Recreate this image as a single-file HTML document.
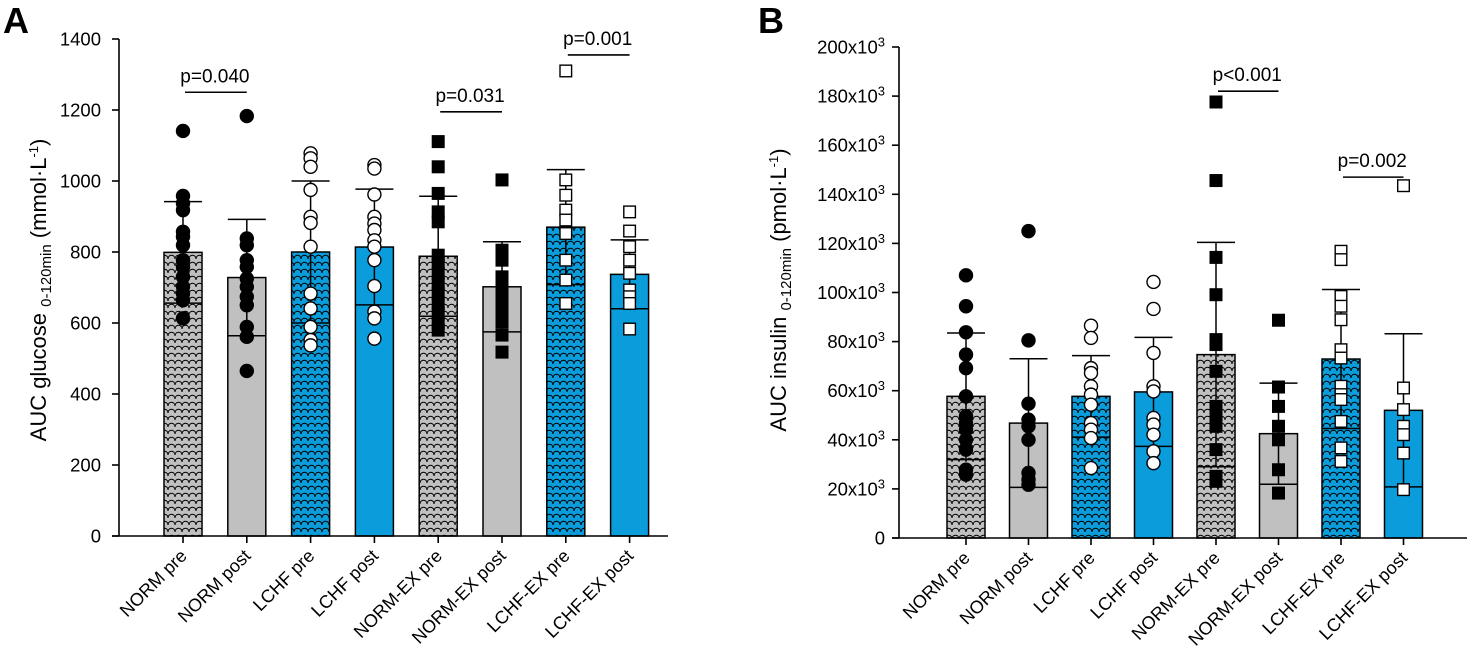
<!DOCTYPE html>
<html><head><meta charset="utf-8"><style>
html,body{margin:0;padding:0;background:#fff;}
svg{display:block;font-family:"Liberation Sans",Arial,sans-serif;}
</style></head><body>
<svg id="fig" width="1470" height="662" viewBox="0 0 1470 662" xmlns="http://www.w3.org/2000/svg">
<defs>
<pattern id="scaleGray" width="14" height="14" patternUnits="userSpaceOnUse">
<rect width="14" height="14" fill="#c0c0c0"/>
<path d="M0,7 C0,2 7,2 7,7 C7,2 14,2 14,7 M-7,14 C-7,9 0,9 0,14 M0,14 C0,9 7,9 7,14 C7,9 14,9 14,14" fill="none" stroke="#000" stroke-width="1"/>
</pattern>
<pattern id="scaleBlue" width="14" height="14" patternUnits="userSpaceOnUse">
<rect width="14" height="14" fill="#0b9ddb"/>
<path d="M0,7 C0,2 7,2 7,7 C7,2 14,2 14,7 M-7,14 C-7,9 0,9 0,14 M0,14 C0,9 7,9 7,14 C7,9 14,9 14,14" fill="none" stroke="#000" stroke-width="1"/>
</pattern>
</defs>
</svg>
<script>
// Shared categories
const categories = ["NORM pre","NORM post","LCHF pre","LCHF post","NORM-EX pre","NORM-EX post","LCHF-EX pre","LCHF-EX post"];
const fills = ["url(#scaleGray)","#c0c0c0","url(#scaleBlue)","#0b9ddb","url(#scaleGray)","#c0c0c0","url(#scaleBlue)","#0b9ddb"];
const markers = ["fc","fc","oc","oc","fs","fs","os","os"];

// Panel A data (glucose)
const gluMeans = [799,728,800,814,788,702,870,737];
const gluSD = [143,164,200,163,169,127,162,97];
const gluPoints = [
 [1141,958,937,918,857,843,819,777,758,730,702,683,664,613],
 [1183,838,819,777,758,725,702,674,650,589,561,465],
 [1078,1064,1040,975,899,882,815,683,641,589,552,537],
 [1045,1035,962,899,880,862,833,815,777,704,632,613,556],
 [1111,1040,965,913,885,791,768,740,711,683,655,627,599,580],
 [1003,805,777,730,711,683,655,627,603,566,518],
 [1310,1003,960,918,890,852,777,721,655],
 [913,859,815,777,740,693,674,655,583]
];
const gluTicks = [0,200,400,600,800,1000,1200,1400];
const gluSig = [{a:0,b:1,y:1250,t:"p=0.040"},{a:4,b:5,y:1195,t:"p=0.031"},{a:6,b:7,y:1355,t:"p=0.001"}];

// Panel B data (insulin, x10^3)
const insMeans = [57.7,46.8,57.7,59.5,74.7,42.5,72.9,52.0];
const insSD = [25.8,26.2,16.6,22.2,45.7,20.6,28.3,31.2];
const insPoints = [
 [107,94.4,83.8,74.7,69.2,57.7,49.6,46.8,44.1,40,36,27.8,25.8],
 [125,80.5,54.7,48.2,45.5,40,26.5,23.8,21.7],
 [86.5,81.5,69.2,67.2,61.8,58.4,54.3,46.8,44.1,40.7,28.5],
 [104.3,93.3,75.4,61.8,59.7,48.9,46.2,42.1,35.3,30.5],
 [177.6,145.6,114.3,99.1,80.8,78.8,67.9,53.6,49.6,45.5,36,25.1,23.1],
 [88.7,61.5,53.6,45.5,40,27.8,18.3],
 [116.8,113.4,98.4,94.4,88.9,76.7,73.3,61.8,58.4,56.4,47.5,36.7,31.2],
 [143.5,61.1,52.3,45.5,42.1,34.6,19.7]
];
const insTicks = [0,20,40,60,80,100,120,140,160,180,200];
const insSig = [{a:4,b:5,y:182,t:"p<0.001"},{a:6,b:7,y:147,t:"p=0.002"}];

const NS="http://www.w3.org/2000/svg";
const svg=document.getElementById('fig');
function mk(tag,attrs,parent){const e=document.createElementNS(NS,tag);for(const k in attrs)e.setAttribute(k,attrs[k]);(parent||svg).appendChild(e);return e;}

function panel(cfg){
  const g=mk('g',{});
  
  
  const y=v=>cfg.y0-(v-cfg.vmin)/(cfg.vmax-cfg.vmin)*(cfg.y0-cfg.y1);
  const x=i=>cfg.c0+i*cfg.step;
  const hw=cfg.bw/2;
  cfg.means.forEach((m,i)=>{
    const r=mk('rect',{x:x(i)-hw,y:y(m),width:cfg.bw,height:cfg.y0-y(m),fill:fills[i],stroke:'#000','stroke-width':1.5},g);
    
    
  });
  cfg.means.forEach((m,i)=>{
    const eg=mk('g',{stroke:'#000','stroke-width':1.5},g);
    
    
    mk('line',{x1:x(i),x2:x(i),y1:y(m+cfg.sd[i]),y2:y(m-cfg.sd[i])},eg);
    mk('line',{x1:x(i)-hw,x2:x(i)+hw,y1:y(m+cfg.sd[i]),y2:y(m+cfg.sd[i])},eg);
    mk('line',{x1:x(i)-hw,x2:x(i)+hw,y1:y(m-cfg.sd[i]),y2:y(m-cfg.sd[i])},eg);
  });
  cfg.points.forEach((arr,i)=>{
    const mt=markers[i];
    arr.forEach(v=>{
      let p;
      if(mt[1]==='c') p=mk('circle',{cx:x(i),cy:y(v),r:6.5,fill:mt[0]==='f'?'#000':'#fff',stroke:'#000','stroke-width':1.4},g);
      else p=mk('rect',{x:x(i)-5.8,y:y(v)-5.8,width:11.6,height:11.6,fill:mt[0]==='f'?'#000':'#fff',stroke:'#000','stroke-width':1.4},g);
      
      
    });
  });
  const ax=mk('g',{stroke:'#000','stroke-width':1.6},g);
  
  
  mk('line',{x1:cfg.ax,x2:cfg.ax,y1:cfg.y1,y2:cfg.y0},ax);
  mk('line',{x1:cfg.ax-7,x2:cfg.xend,y1:cfg.y0,y2:cfg.y0},ax);
  cfg.ticks.forEach(t=>{
    mk('line',{x1:cfg.ax-7,x2:cfg.ax,y1:y(t),y2:y(t)},ax);
    const tx=mk('text',{x:cfg.lx,y:y(t)+6.5,'text-anchor':'end','font-size':18.5,fill:'#000'},g);
    
    
    if(cfg.sci && t!==0){tx.textContent=t+'x10';const s=mk('tspan',{dy:-7,'font-size':13},tx);s.textContent='3';}
    else tx.textContent=t;
  });
  categories.forEach((c,i)=>{
    mk('line',{x1:x(i),x2:x(i),y1:cfg.y0,y2:cfg.y0+7},ax);
    const tx=mk('text',{x:x(i)+5,y:cfg.y0+21,'text-anchor':'end','font-size':18,fill:'#000',transform:`rotate(-45 ${x(i)+5} ${cfg.y0+21})`},g);
    tx.textContent=c;
    
    
  });
  cfg.sig.forEach(s=>{
    const sg=mk('g',{},g);
    
    
    mk('line',{x1:x(s.a)+2,x2:x(s.b),y1:y(s.y),y2:y(s.y),stroke:'#000','stroke-width':1.6},sg);
    const t=mk('text',{x:(x(s.a)+x(s.b))/2,y:y(s.y)-10,'text-anchor':'middle','font-size':19},sg);
    t.textContent=s.t;
  });
  const tt=mk('text',{x:0,y:0,'text-anchor':'middle','font-size':22,transform:`translate(${cfg.tx} ${cfg.ty}) rotate(-90)`},g);
  
  
  tt.appendChild(document.createTextNode(cfg.t1+' '));
  const sub=mk('tspan',{'font-size':15,dy:5},tt);sub.textContent='0-120min';
  const u=mk('tspan',{dy:-5},tt);u.textContent=' ('+cfg.unit+'\u00B7L';
  const sup=mk('tspan',{'font-size':13,dy:-8},tt);sup.textContent='-1';
  const cl=mk('tspan',{dy:8},tt);cl.textContent=')';
  const L=mk('text',{x:cfg.Lx,y:33,'font-size':36,'font-weight':'bold'},g);
  L.textContent=cfg.letter;
  
  
}

panel({name:'panel-a-glucose',means:gluMeans,sd:gluSD,points:gluPoints,ticks:gluTicks,sig:gluSig,
  vmin:0,vmax:1400,y0:536,y1:39,ax:119,xend:668,c0:183,step:63.8,bw:38,lx:101,sci:false,
  tx:46,ty:290,t1:'AUC glucose',unit:'mmol',letter:'A',Lx:3});
panel({name:'panel-b-insulin',means:insMeans,sd:insSD,points:insPoints,ticks:insTicks,sig:insSig,
  vmin:0,vmax:200,y0:538,y1:47,ax:899,xend:1467,c0:966,step:62.5,bw:38,lx:885,sci:true,
  tx:786,ty:290,t1:'AUC insulin',unit:'pmol',letter:'B',Lx:758});
</script>
</body></html>
